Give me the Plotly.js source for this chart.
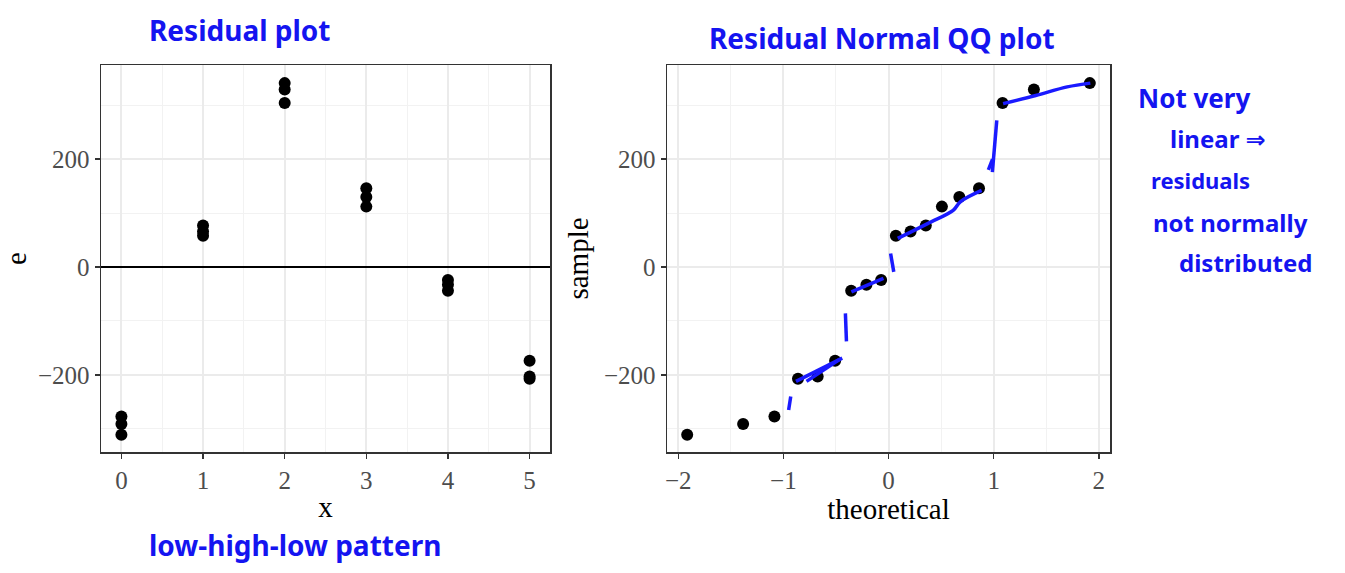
<!DOCTYPE html>
<html>
<head>
<meta charset="utf-8">
<script src="https://cdn.plot.ly/plotly-3.0.1.min.js"></script>
<style>html,body{margin:0;padding:0;background:#fff;}#chart{width:1345px;height:573px;}</style>
</head>
<body>
<div id="chart"></div>
<script>
// Residual plot data
const xVals = [0,0,0, 1,1,1, 2,2,2, 3,3,3, 4,4,4, 5,5,5];
const eVals = [-277,-291,-311, 77,66,58, 341,329,304, 146,130,112, -24,-33,-44, -174,-203,-207];

// Normal QQ data
const theoretical = [-1.915,-1.383,-1.085,-0.861,-0.674,-0.508,-0.355,-0.210,-0.070,
                     0.070,0.210,0.355,0.508,0.674,0.861,1.085,1.383,1.915];
const sample = [-311,-291,-277,-207,-203,-174,-44,-33,-24,
                58,66,77,112,130,146,304,329,341];

// tick labels
const xTicks = [0,1,2,3,4,5];
const qqTicks = [-2,-1,0,1,2];
const yTicks = [-200,0,200];

// hand-drawn blue strokes on the QQ plot (data coordinates)
const strokes = [
  {x:[-0.93,-0.95], y:[-240,-265]},
  {x:[-0.88,-0.44], y:[-212,-169]},
  {x:[-0.78,-0.47], y:[-212,-172]},
  {x:[-0.41,-0.40], y:[-86,-138]},
  {x:[-0.353,-0.048], y:[-46,-21]},
  {x:[0.02,0.05], y:[25,-9]},
  {x:[0.088,0.377,0.615,0.683,0.886], y:[53,81,105,121,142]},
  {x:[0.988,1.03], y:[176,272]},
  {x:[0.95,0.99], y:[180,200]},
  {x:[1.09,1.40,1.70,1.92], y:[303,318,334,341]}
];

// handwritten notes
const notes = [
  {text:"Residual plot", x:240, y:30, size:28},
  {text:"Residual Normal QQ plot", x:882, y:38, size:28},
  {text:"Not very", x:1194, y:98, size:26},
  {text:"linear ⇒", x:1218, y:138, size:24},
  {text:"residuals", x:1200, y:180, size:22},
  {text:"not normally", x:1230, y:222, size:24},
  {text:"distributed", x:1245, y:262, size:24},
  {text:"low-high-low pattern", x:295, y:545, size:28}
];

const W = 1345, H = 573;
const yRange = [-343, 374.6];
const serif = "Liberation Serif, Times New Roman, serif";

const traces = [
  {x:xVals, y:eVals, xaxis:'x', yaxis:'y', type:'scatter', mode:'markers',
   marker:{color:'#000', size:12}, hoverinfo:'skip'},
  {x:theoretical, y:sample, xaxis:'x2', yaxis:'y2', type:'scatter', mode:'markers',
   marker:{color:'#000', size:12}, hoverinfo:'skip'}
];
strokes.forEach(s => traces.push({x:s.x, y:s.y, xaxis:'x2', yaxis:'y2', type:'scatter',
  mode:'lines', line:{color:'#1a1aff', width:3.5, shape:'spline'}, hoverinfo:'skip'}));

function axisBase(extra){
  return Object.assign({
    showline:true, mirror:true, linecolor:'#333333', linewidth:1.5,
    ticks:'outside', ticklen:5, tickcolor:'#333333', tickwidth:1.5,
    showgrid:true, gridcolor:'#ebebeb', gridwidth:2, zeroline:false,
    tickfont:{family:serif, size:25, color:'#4d4d4d'},
    fixedrange:true
  }, extra);
}
const minorGrid = vals => ({showgrid:true, gridcolor:'#f2f2f2', gridwidth:1, tickvals:vals, ticks:''});
const titleFont = {family:serif, size:29, color:'#000'};

const ydom = [1-452/H, 1-65/H];
const layout = {
  width:W, height:H, margin:{l:0,r:0,t:0,b:0},
  paper_bgcolor:'#fff', plot_bgcolor:'#fff', showlegend:false,
  font:{family:serif},
  xaxis: axisBase({domain:[101/W, 550/W], range:[-0.25,5.25], tickvals:xTicks,
    minor:minorGrid([0.5,1.5,2.5,3.5,4.5]),
    title:{text:'x', font:titleFont, standoff:4}, anchor:'y'}),
  yaxis: axisBase({domain:ydom, range:yRange, tickvals:yTicks,
    minor:minorGrid([-300,-100,100,300]),
    title:{text:'e', font:titleFont, standoff:10}, anchor:'x'}),
  xaxis2: axisBase({domain:[667/W, 1110/W], range:[-2.107,2.107], tickvals:qqTicks,
    minor:minorGrid([-1.5,-0.5,0.5,1.5]),
    title:{text:'theoretical', font:titleFont, standoff:4}, anchor:'y2'}),
  yaxis2: axisBase({domain:ydom, range:yRange, tickvals:yTicks,
    minor:minorGrid([-300,-100,100,300]),
    title:{text:'sample', font:titleFont, standoff:6}, anchor:'x2'}),
  shapes:[{type:'line', xref:'x domain', yref:'y', x0:0, x1:1, y0:0, y1:0,
    line:{color:'#000', width:2.2}, layer:'above'}],
  annotations: notes.map(n => ({text:n.text, xref:'paper', yref:'paper',
    x:n.x/W, y:1-n.y/H, xanchor:'center', yanchor:'middle', showarrow:false,
    font:{family:'Noto Sans, DejaVu Sans, sans-serif', size:n.size, color:'#1414f0', weight:700}}))
};

Plotly.newPlot('chart', traces, layout, {staticPlot:true, displayModeBar:false});
</script>
</body>
</html>
